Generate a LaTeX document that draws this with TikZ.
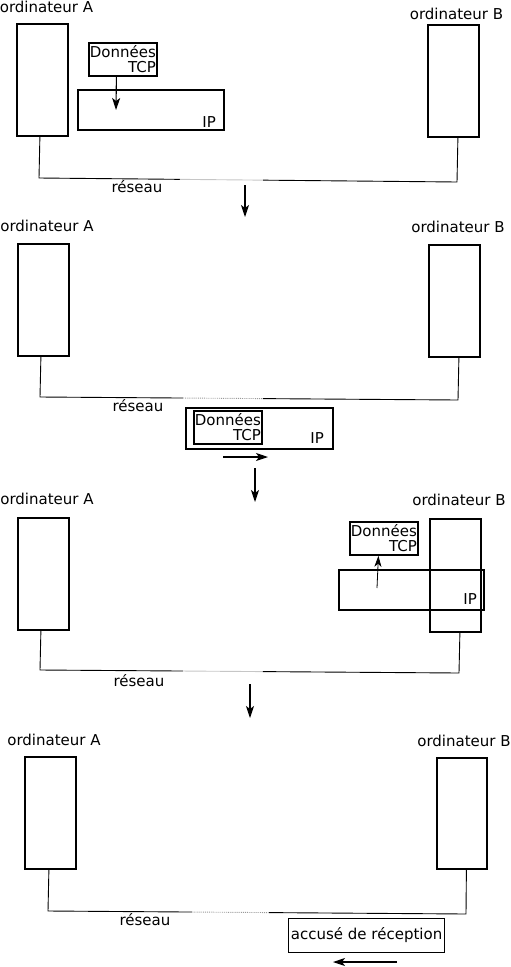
\documentclass[tikz,border=0pt]{standalone}
\usepackage{fontspec}
\setmainfont{DejaVu Sans}
\usetikzlibrary{arrows.meta,calc}
\begin{document}
\begin{tikzpicture}[x=1pt,y=-1pt,
  comp/.style={draw,line width=1.8pt,minimum width=51pt,minimum height=112pt,inner sep=0pt,anchor=north west},
  lbl/.style={inner sep=0pt,font=\fontsize{15}{15}\selectfont},
  tcpbox/.style={draw,line width=1.8pt,align=right,inner xsep=1pt,inner ysep=1.5pt,minimum height=33pt,anchor=north west,font=\fontsize{15}{15}\selectfont},
  ipbox/.style={draw,line width=1.8pt,minimum width=146pt,minimum height=40pt,inner sep=0pt,anchor=north west},
  net/.style={line width=0.9pt},
  netgray/.style={line width=0.9pt,gray!45},
  netdot/.style={line width=0.9pt,gray!80,densely dotted},
  arr/.style={line width=1.1pt,-{Stealth[length=12pt,width=8pt,inset=3pt]}}
]
\useasboundingbox (0,0) rectangle (511,967);

% ---------------- panel 1 ----------------
\node[lbl,anchor=base] (lA1) at (46.5,12) {ordinateur A};
\node[lbl,anchor=base] (lB1) at (456.5,19) {ordinateur B};
\node[comp] (A1) at (16,23) {};
\node[comp] (B1) at (427,24) {};
\node[tcpbox] (T1) at (88,42) {Données\\TCP};
\node[ipbox,minimum width=146pt] (I1) at (77,89) {};
\node[lbl,anchor=base east] (ip1) at (216,127) {IP};
\coordinate (a1) at (116,110);
\draw[arr] ([xshift=-6.5]T1.south) -- (a1);
\coordinate (n1a) at (39,178);
\coordinate (n1b) at (457,182);
\coordinate (g1a) at ($(n1a)!0.337!(n1b)$);
\coordinate (g1b) at ($(n1a)!0.536!(n1b)$);
\draw[net] ([xshift=-2.5]A1.south) -- (n1a) -- (g1a);
\draw[netgray] (g1a) -- (g1b);
\draw[net] (g1b) -- (n1b) -- ([xshift=4.5]B1.south);
\node[lbl,anchor=base] (r1) at (137,192) {réseau};
\coordinate (d1a) at (245,185);
\coordinate (d1b) at (245,217);
\draw[arr] (d1a) -- (d1b);

% ---------------- panel 2 ----------------
\node[lbl,anchor=base] (lA2) at (47,231) {ordinateur A};
\node[lbl,anchor=base] (lB2) at (458,232) {ordinateur B};
\node[comp] (A2) at (17,243) {};
\node[comp] (B2) at (428,244) {};
\coordinate (n2a) at (40,397);
\coordinate (n2b) at (458,400);
\coordinate (g2a) at ($(n2a)!0.342!(n2b)$);
\coordinate (g2b) at ($(n2a)!0.533!(n2b)$);
\draw[net] ([xshift=-2.5]A2.south) -- (n2a) -- (g2a);
\draw[netdot] (g2a) -- (g2b);
\draw[net] (g2b) -- (n2b) -- ([xshift=4.5]B2.south);
\node[lbl,anchor=base] (r2) at (138,411) {réseau};
\node[ipbox,minimum width=147pt,minimum height=41pt] (I2) at (185,407) {};
\node[tcpbox] (T2) at (193,410) {Données\\TCP};
\node[lbl,anchor=base east] (ip2) at (324,443) {IP};
\coordinate (h2a) at (223,457);
\coordinate (h2b) at (268,457);
\draw[arr] (h2a) -- (h2b);
\coordinate (d2a) at (255,468);
\coordinate (d2b) at (255,502);
\draw[arr] (d2a) -- (d2b);

% ---------------- panel 3 ----------------
\node[lbl,anchor=base] (lA3) at (47,504) {ordinateur A};
\node[lbl,anchor=base] (lB3) at (459,505) {ordinateur B};
\node[comp] (A3) at (17,517) {};
\node[comp,minimum height=113pt] (B3) at (429,518) {};
\node[tcpbox] (T3) at (349,521) {Données\\TCP};
\node[ipbox,minimum width=145pt] (I3) at (338,569) {};
\node[lbl,anchor=base east] (ip3) at (477,604) {IP};
\coordinate (a3) at (377,588);
\draw[line width=0.8pt,-{Stealth[length=11pt,width=7pt,inset=3pt]}] (a3) -- ([xshift=-5.5]T3.south);
\coordinate (n3a) at (40,670);
\coordinate (n3b) at (459,673);
\coordinate (g3a) at ($(n3a)!0.341!(n3b)$);
\coordinate (g3b) at ($(n3a)!0.532!(n3b)$);
\draw[net] ([xshift=-2.5]A3.south) -- (n3a) -- (g3a);
\draw[netgray] (g3a) -- (g3b);
\draw[net] (g3b) -- (n3b) -- ([xshift=4.5]B3.south);
\node[lbl,anchor=base] (r3) at (139,686) {réseau};
\coordinate (d3a) at (250,684);
\coordinate (d3b) at (250,718);
\draw[arr] (d3a) -- (d3b);

% ---------------- panel 4 ----------------
\node[lbl,anchor=base] (lA4) at (54,745) {ordinateur A};
\node[lbl,anchor=base] (lB4) at (464,746) {ordinateur B};
\node[comp] (A4) at (24,756) {};
\node[comp,minimum width=50pt,minimum height=111pt] (B4) at (436,757) {};
\coordinate (n4a) at (48,911);
\coordinate (n4b) at (466,914);
\coordinate (g4a) at ($(n4a)!0.344!(n4b)$);
\coordinate (g4b) at ($(n4a)!0.529!(n4b)$);
\draw[net] ([xshift=-1.5]A4.south) -- (n4a) -- (g4a);
\draw[netdot] (g4a) -- (g4b);
\draw[net] (g4b) -- (n4b) -- ([xshift=4.5]B4.south);
\node[lbl,anchor=base] (r4) at (145,925) {réseau};
\node[draw,line width=0.9pt,anchor=north west,inner xsep=2.5pt,inner ysep=0pt,minimum height=34pt,font=\fontsize{15}{15}\selectfont] (ack) at (288,918) {accusé de réception};
\coordinate (h4a) at (397,962);
\coordinate (h4b) at (333,962);
\draw[arr] (h4a) -- (h4b);
\end{tikzpicture}
\end{document}
